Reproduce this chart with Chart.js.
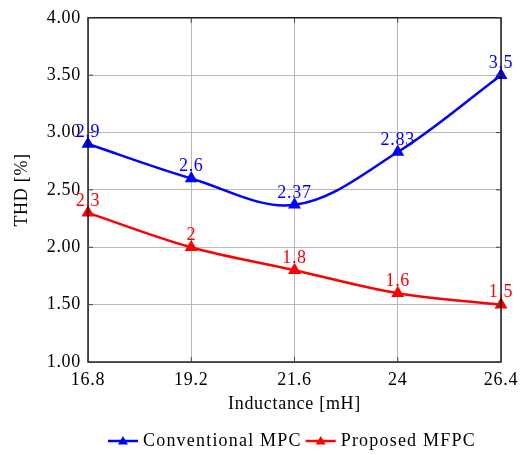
<!DOCTYPE html>
<html>
<head>
<meta charset="utf-8">
<script src="https://cdn.jsdelivr.net/npm/chart.js@4.4.0/dist/chart.umd.min.js"></script>
<style>
  html, body { margin: 0; padding: 0; background: #fff; }
  #wrap { width: 525px; height: 455px; }
</style>
</head>
<body>
<div id="wrap"><canvas id="thdChart" width="525" height="455"></canvas></div>
<script>
// chart values
var inductance = ['16.8', '19.2', '21.6', '24', '26.4'];
var conventionalMpc = [2.9, 2.6, 2.37, 2.83, 3.5];
var proposedMfpc = [2.3, 2, 1.8, 1.6, 1.5];
var seriesNames = ['Conventional MPC', 'Proposed MFPC'];

var blue = '#0000ff';
var red = '#ff0000';
var font = '"Liberation Serif", "Times New Roman", serif';
var fsize = 18;

// point labels, axis frame, titles and legend
var extras = {
  id: 'extras',
  beforeDraw: function (chart) {
    // the reference font is a bit wider than Liberation Serif
    chart.ctx.letterSpacing = '0.7px';
  },
  afterDatasetsDraw: function (chart) {
    var ctx = chart.ctx;
    var area = chart.chartArea;
    var xs = chart.scales.x, ys = chart.scales.y;

    ctx.save();
    // frame
    ctx.strokeStyle = '#000';
    ctx.lineWidth = 1.3;
    ctx.strokeRect(area.left, area.top, area.right - area.left, area.bottom - area.top);
    // inner ticks
    ctx.lineWidth = 1;
    ctx.strokeStyle = '#444';
    ctx.beginPath();
    xs.ticks.forEach(function (t, i) {
      var px = xs.getPixelForTick(i);
      ctx.moveTo(px, area.bottom); ctx.lineTo(px, area.bottom - 5);
      ctx.moveTo(px, area.top); ctx.lineTo(px, area.top + 5);
    });
    ys.ticks.forEach(function (t, i) {
      var py = ys.getPixelForTick(i);
      ctx.moveTo(area.left, py); ctx.lineTo(area.left + 5, py);
      ctx.moveTo(area.right, py); ctx.lineTo(area.right - 5, py);
    });
    ctx.stroke();

    // value labels
    ctx.font = fsize + 'px ' + font;
    ctx.textAlign = 'center';
    ctx.textBaseline = 'bottom';
    chart.data.datasets.forEach(function (ds, di) {
      var meta = chart.getDatasetMeta(di);
      ctx.fillStyle = ds.borderColor;
      meta.data.forEach(function (pt, i) {
        ctx.fillText(String(ds.data[i]), pt.x, pt.y - 3);
      });
    });

    // axis titles
    ctx.fillStyle = '#000';
    ctx.textBaseline = 'middle';
    ctx.fillText('Inductance [mH]', (area.left + area.right) / 2, 404);
    ctx.save();
    ctx.translate(22, (area.top + area.bottom) / 2);
    ctx.rotate(-Math.PI / 2);
    ctx.fillText('THD [%]', 0, 0);
    ctx.restore();

    // legend
    var lx = 108, ly = 441;
    ctx.textAlign = 'left';
    ctx.letterSpacing = '1.2px';
    chart.data.datasets.forEach(function (ds) {
      ctx.strokeStyle = ds.borderColor;
      ctx.fillStyle = ds.borderColor;
      ctx.lineWidth = 2.5;
      ctx.beginPath();
      ctx.moveTo(lx, ly); ctx.lineTo(lx + 30, ly);
      ctx.stroke();
      ctx.beginPath();
      ctx.moveTo(lx + 15, ly - 5);
      ctx.lineTo(lx + 20, ly + 3.5);
      ctx.lineTo(lx + 10, ly + 3.5);
      ctx.closePath();
      ctx.fill();
      ctx.fillStyle = '#000';
      ctx.fillText(ds.label, lx + 35, ly);
      lx += 35 + ctx.measureText(ds.label).width + 4;
    });
    ctx.restore();
  }
};

var thdChart = new Chart(document.getElementById('thdChart'), {
  type: 'line',
  data: {
    labels: inductance,
    datasets: [{
      label: seriesNames[0],
      data: conventionalMpc,
      borderColor: blue,
      backgroundColor: blue,
      borderWidth: 2.5,
      pointStyle: 'triangle',
      pointRadius: 5,
      tension: 0.35
    }, {
      label: seriesNames[1],
      data: proposedMfpc,
      borderColor: red,
      backgroundColor: red,
      borderWidth: 2.5,
      pointStyle: 'triangle',
      pointRadius: 5,
      tension: 0.35
    }]
  },
  options: {
    responsive: false,
    animation: false,
    layout: { padding: { left: 0, right: 24, top: 16, bottom: 0 } },
    plugins: {
      legend: { display: false },
      tooltip: { enabled: false }
    },
    scales: {
      x: {
        type: 'category',
        offset: false,
        grid: { color: '#b8b8b8', lineWidth: 1, drawTicks: false },
        border: { display: false },
        ticks: { color: '#000', padding: 7, font: { family: font, size: fsize }, maxRotation: 0 },
        afterFit: function (s) { s.height = 93; }
      },
      y: {
        min: 1,
        max: 4,
        grid: { color: '#b8b8b8', lineWidth: 1, drawTicks: false },
        border: { display: false },
        ticks: {
          stepSize: 0.5,
          color: '#000',
          padding: 7,
          font: { family: font, size: fsize },
          callback: function (v) { return v.toFixed(2); }
        },
        afterFit: function (s) { s.width = 88; }
      }
    }
  },
  plugins: [extras]
});
</script>
</body>
</html>
